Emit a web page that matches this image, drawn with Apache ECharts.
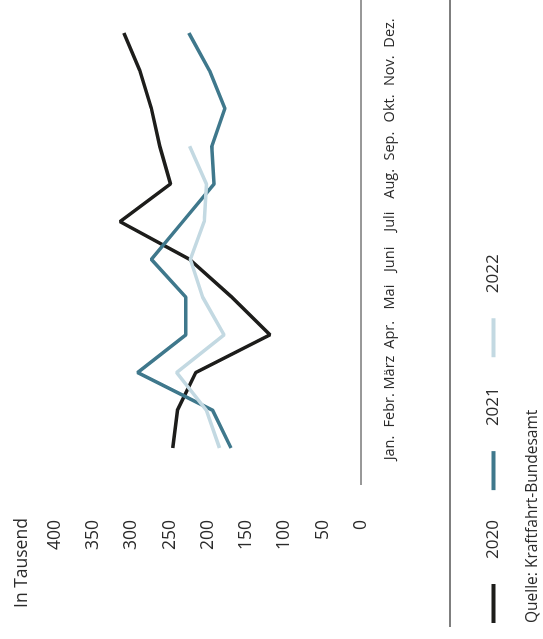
<!DOCTYPE html>
<html>
<head>
<meta charset="utf-8">
<script src="https://cdn.jsdelivr.net/npm/echarts@6/dist/echarts.min.js"></script>
<style>
  html, body { margin: 0; padding: 0; background: #fff; overflow: hidden; }
  /* the chart is drawn upright (639x543) and then turned a quarter to the left */
  #chart {
    position: absolute; left: 0; top: 0;
    width: 639px; height: 543px;
    transform-origin: 0 0;
    transform: translateY(639px) rotate(-90deg);
  }
</style>
</head>
<body>
<div id="chart"></div>
<script>
// Neuzulassungen je Monat, in Tausend
const months = ["Jan.", "Febr.", "März", "Apr.", "Mai", "Juni", "Juli", "Aug.", "Sep.", "Okt.", "Nov.", "Dez."];
const y2020 = [246, 240, 216, 119, 169, 224, 315, 249, 263, 274, 289, 310];
const y2021 = [170, 194, 292, 229, 229, 274, 233, 192, 195, 178, 198, 225];
const y2022 = [185, 202, 241, 179, 207, 223, 205, 202, 224];
const yTicks = [0, 400, 50]; // min, max, step

const FONT = "Open Sans";
const INK = "#2b2b2b";

let chart = echarts.init(document.getElementById("chart"));
chart.setOption({
  animation: false,
  color: ["#1d1d1b", "#3f788c", "#c3d9e2"],
  textStyle: { fontFamily: FONT },
  title: {
    text: "In Tausend",
    left: 26,
    top: 8,
    textStyle: { fontFamily: FONT, fontSize: 17.5, fontWeight: "normal", color: INK },
  },
  grid: {
    left: 191,
    right: 33,
    top: 55,
    bottom: 182,
  },
  legend: {
    left: 11,
    top: 480,
    icon: "rect",
    itemWidth: 39,
    itemHeight: 4,
    itemGap: 30,
    textStyle: { fontFamily: FONT, fontSize: 17, color: INK, padding: [0, 0, 0, 20] },
  },
  xAxis: {
    type: "category",
    data: months,
    boundaryGap: false,
    axisLine: { show: false },
    axisTick: { show: false },
    axisLabel: { fontFamily: FONT, fontSize: 14.5, color: INK, margin: 21, interval: 0 },
  },
  yAxis: {
    type: "value",
    min: yTicks[0],
    max: yTicks[1],
    interval: yTicks[2],
    axisLine: { show: false },
    axisTick: { show: false },
    splitLine: { show: false },
    axisLabel: { fontFamily: FONT, fontSize: 17.5, color: INK, margin: 72 },
  },
  graphic: [
    // Nulllinie, läuft über den Plotbereich hinaus
    { type: "line", shape: { x1: 154, y1: 361, x2: 639, y2: 361 }, style: { stroke: "#333", lineWidth: 1 } },
    // Trennlinie über der Legende
    { type: "line", shape: { x1: 12, y1: 450, x2: 639, y2: 450 }, style: { stroke: "#555", lineWidth: 1.5 } },
    {
      type: "text",
      left: 16,
      top: 525,
      style: { text: "Quelle: Kraftfahrt-Bundesamt", fontFamily: FONT, fontSize: 15.5, fill: INK },
    },
  ],
  series: [
    { name: "2020", type: "line", data: y2020, symbol: "none", lineStyle: { width: 3.5 } },
    { name: "2021", type: "line", data: y2021, symbol: "none", lineStyle: { width: 3.5 } },
    { name: "2022", type: "line", data: y2022, symbol: "none", lineStyle: { width: 3.5 } },
  ],
});
</script>
</body>
</html>
